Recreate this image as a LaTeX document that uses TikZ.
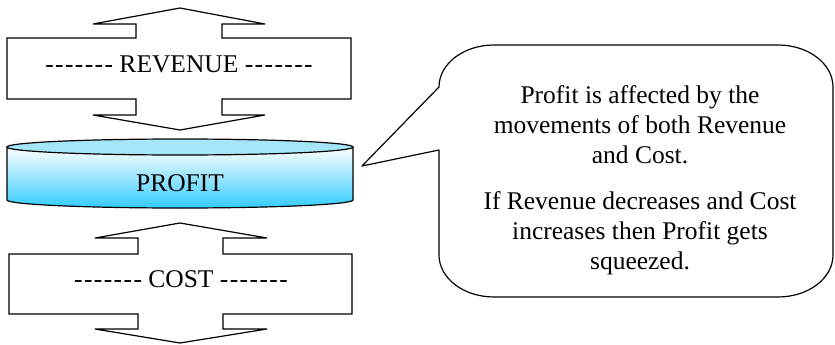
\documentclass[tikz,border=0pt]{standalone}
\usepackage{fontspec}
\setmainfont{Liberation Serif}
\definecolor{cyl}{HTML}{33CCFF}
\definecolor{cyltop}{HTML}{A6E6FA}
\newcommand\sevendash{-\kern1.4pt-\kern1.4pt-\kern1.4pt-\kern1.4pt-\kern1.4pt-\kern1.4pt-}
\begin{document}
\begin{tikzpicture}[x=1pt,y=-1pt,
  outl/.style={draw=black,line width=1.2pt,line join=miter},
  lbl/.style={font=\fontsize{25.5}{30}\selectfont,inner sep=0pt},
]
\useasboundingbox (0,0) rectangle (835,345);
% Revenue up-down arrow
\draw[outl] (180,8) -- (265,24) -- (222,24) -- (222,38) -- (351,38) -- (351,99) -- (222,99) -- (222,115) -- (265,115) -- (180,130) -- (93,115) -- (136,115) -- (136,99) -- (7,99) -- (7,38) -- (136,38) -- (136,24) -- (93,24) -- cycle;
\node[lbl] (rev) at (179,64) {\sevendash\ REVENUE \sevendash};
% Cost up-down arrow
\draw[outl] (180,223) -- (267,238) -- (223,238) -- (223,254) -- (352,254) -- (352,314) -- (223,314) -- (223,329) -- (267,329) -- (180,343) -- (95,329) -- (138,329) -- (138,314) -- (9,314) -- (9,254) -- (138,254) -- (138,238) -- (95,238) -- cycle;
\node[lbl] (cost) at (181,279) {\sevendash\ COST \sevendash};
% Profit cylinder
\shade[top color=white,bottom color=cyl] (7,147) -- (7,200) arc[start angle=180,end angle=360,x radius=173pt,y radius=8pt] -- (353,147) -- cycle;
\draw[outl] (7,147) -- (7,200) arc[start angle=180,end angle=360,x radius=173pt,y radius=8pt] -- (353,147);
\draw[outl,fill=cyltop] (180,147) ellipse[x radius=173pt,y radius=8pt];
\node[lbl] (profit) at (180,183) {PROFIT};
\coordinate (tip) at (362,166);
% Callout
\draw[outl,line join=round] (439,150) -- (tip) -- (439,87)
  arc[start angle=180,end angle=90,x radius=55pt,y radius=42pt] -- (778,45)
  arc[start angle=90,end angle=0,x radius=55pt,y radius=42pt] -- (833,255)
  arc[start angle=0,end angle=-90,x radius=55pt,y radius=42pt] -- (494,297)
  arc[start angle=270,end angle=180,x radius=55pt,y radius=42pt] -- cycle;
\node[lbl,align=center] (note) at (640,180) {Profit is affected by the\\movements of both Revenue\\and Cost.\\[16pt]If Revenue decreases and Cost\\increases then Profit gets\\squeezed.};
\end{tikzpicture}
\end{document}
